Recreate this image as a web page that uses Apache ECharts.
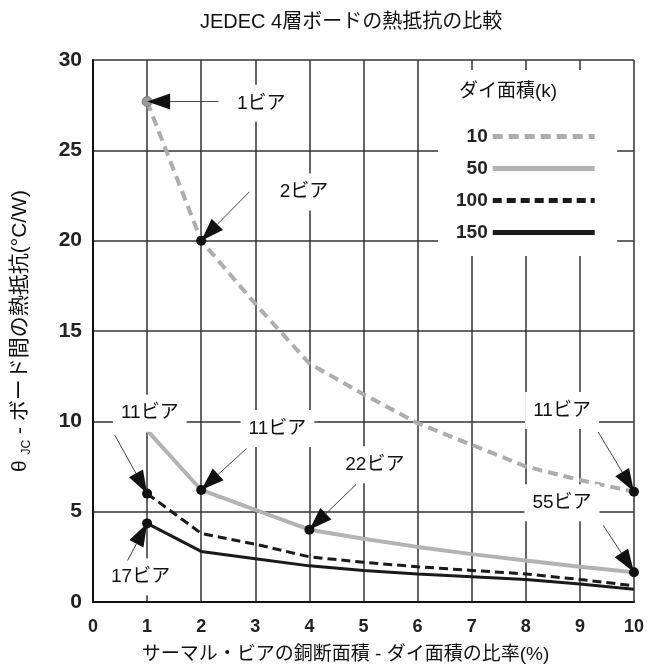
<!DOCTYPE html>
<html>
<head>
<meta charset="utf-8">
<script src="https://cdn.jsdelivr.net/npm/echarts@6/dist/echarts.min.js"></script>
<style>
html,body{margin:0;padding:0;background:#fff;}
#main{width:647px;height:670px;}
</style>
</head>
<body>
<div id="main"></div>
<script>
// 比率(%)
var xValues = [1, 2, 3, 4, 5, 6, 7, 8, 9, 10];
// ダイ面積ごとの熱抵抗
var die10 = [27.7, 20.0, 16.5, 13.2, 11.5, 9.9, 8.7, 7.5, 6.75, 6.1];
var die50 = [9.5, 6.2, 5.1, 4.0, 3.5, 3.05, 2.65, 2.3, 1.95, 1.65];
var die100 = [6.0, 3.8, 3.2, 2.5, 2.2, 1.95, 1.75, 1.55, 1.25, 0.9];
var die150 = [4.35, 2.8, 2.4, 2.0, 1.75, 1.55, 1.4, 1.25, 1.0, 0.7];
var seriesNames = ['10', '50', '100', '150'];

// 注記
var noteTexts = ['1ビア', '2ビア', '11ビア', '11ビア', '22ビア', '11ビア', '55ビア', '17ビア'];
var notePos = [[3.11, 27.6], [3.9, 22.7], [1.05, 10.45], [3.41, 9.6], [5.21, 7.6], [8.67, 10.6], [8.67, 5.5], [0.88, 1.4]];
var arrowFrom = [[2.32, 27.7], [2.89, 22.7], [0.4, 9.25], [2.84, 8.5], [4.86, 6.5], [9.34, 9.4], [9.43, 4.25], [0.64, 2.3]];
// 矢印の先: [系列番号, データ番号]
var arrowTo = [[0, 0], [0, 1], [2, 0], [1, 1], [1, 3], [0, 9], [1, 9], [3, 0]];

var allData = [die10, die50, die100, die150];
var font = '"Liberation Sans", "Noto Sans CJK JP", sans-serif';

function isMarked(s, i) {
    for (var k = 0; k < arrowTo.length; k++) {
        if (arrowTo[k][0] === s && arrowTo[k][1] === i) return true;
    }
    return false;
}

function buildData(s) {
    var res = [];
    for (var i = 0; i < xValues.length; i++) {
        var item = {value: [xValues[i], allData[s][i]]};
        if (isMarked(s, i)) {
            item.symbol = 'circle';
            item.symbolSize = 10;
            item.itemStyle = (s === 0 && i === 0)
                ? {color: '#9a9a9a', borderColor: '#777', borderWidth: 1}
                : {color: '#111'};
        }
        res.push(item);
    }
    return res;
}

var lineStyles = [
    {color: '#adadad', width: 4, type: [10, 6]},
    {color: '#b3b3b3', width: 4, type: 'solid'},
    {color: '#1a1a1a', width: 3, type: [9, 5]},
    {color: '#1a1a1a', width: 3, type: 'solid'}
];

var series = [];
for (var s = 0; s < seriesNames.length; s++) {
    series.push({
        name: seriesNames[s],
        type: 'line',
        symbol: 'none',
        color: lineStyles[s].color,
        lineStyle: lineStyles[s],
        z: 2,
        data: buildData(s)
    });
}

// 注記ラベル
var noteData = [];
var arrowData = [];
for (var n = 0; n < noteTexts.length; n++) {
    noteData.push({value: notePos[n], name: noteTexts[n]});
    var t = arrowTo[n];
    arrowData.push([arrowFrom[n][0], arrowFrom[n][1], xValues[t[1]], allData[t[0]][t[1]]]);
}
series.push({
    name: 'notes',
    type: 'scatter',
    symbolSize: 0,
    z: 5,
    itemStyle: {opacity: 1},
    data: noteData,
    label: {
        show: true,
        position: 'inside',
        formatter: '{b}',
        color: '#111',
        fontSize: 19,
        fontFamily: font,
        backgroundColor: '#fff',
        padding: [9, 8]
    }
});

// 矢印
series.push({
    name: 'arrows',
    type: 'custom',
    z: 6,
    silent: true,
    encode: {x: [0, 2], y: [1, 3]},
    data: arrowData,
    renderItem: function (params, api) {
        var p1 = api.coord([api.value(0), api.value(1)]);
        var p2 = api.coord([api.value(2), api.value(3)]);
        var dx = p2[0] - p1[0], dy = p2[1] - p1[1];
        var len = Math.sqrt(dx * dx + dy * dy);
        var ux = dx / len, uy = dy / len;
        var headLen = 23, halfW = 8;
        var bx = p2[0] - ux * headLen, by = p2[1] - uy * headLen;
        return {
            type: 'group',
            children: [{
                type: 'line',
                shape: {x1: p1[0], y1: p1[1], x2: bx, y2: by},
                style: {stroke: '#444', lineWidth: 1}
            }, {
                type: 'polygon',
                shape: {points: [[p2[0], p2[1]], [bx - uy * halfW, by + ux * halfW], [bx + uy * halfW, by - ux * halfW]]},
                style: {fill: '#111'}
            }]
        };
    }
});

var myChart = echarts.init(document.getElementById('main'));
var option = {
    animation: false,
    backgroundColor: '#fff',
    title: [{
        text: 'JEDEC 4層ボードの熱抵抗の比較',
        left: 200,
        top: 12,
        padding: 0,
        textStyle: {fontSize: 20, fontWeight: 'normal', color: '#111', fontFamily: font}
    }, {
        text: 'ダイ面積(k)',
        left: 459,
        top: 82,
        padding: 0,
        textStyle: {fontSize: 19, fontWeight: 'normal', color: '#111', fontFamily: font}
    }],
    legend: {
        data: seriesNames,
        orient: 'vertical',
        left: 438,
        top: 70,
        align: 'right',
        padding: [57, 20, 14, 18],
        backgroundColor: '#fff',
        itemWidth: 102,
        itemHeight: 14,
        itemGap: 13,
        itemStyle: {opacity: 0},
        lineStyle: {width: 5},
        textStyle: {fontSize: 19, fontWeight: 'bold', color: '#222', fontFamily: font}
    },
    grid: {left: 93, right: 11, top: 60, bottom: 68},
    xAxis: {
        type: 'value',
        min: 0,
        max: 10,
        interval: 1,
        name: 'サーマル・ビアの銅断面積 - ダイ面積の比率(%)',
        nameLocation: 'middle',
        nameGap: 43,
        nameTextStyle: {fontSize: 19, color: '#111', fontFamily: font, padding: [0, 36, 0, 0]},
        axisLine: {lineStyle: {color: '#111', width: 2}},
        axisTick: {show: false},
        axisLabel: {margin: 16, fontSize: 18, fontWeight: 'bold', color: '#222', fontFamily: font},
        splitLine: {show: true, lineStyle: {color: '#333', width: 1.5}}
    },
    yAxis: {
        type: 'value',
        min: 0,
        max: 30,
        interval: 5,
        name: '{t|θ} {s|JC}{t| - ボード間の熱抵抗(°C/W)}',
        nameLocation: 'middle',
        nameGap: 60,
        nameTextStyle: {
            fontSize: 21, color: '#111', fontFamily: font,
            rich: {
                t: {fontSize: 21, color: '#111', fontFamily: font, lineHeight: 25},
                s: {fontSize: 12, color: '#111', fontFamily: font, lineHeight: 25, verticalAlign: 'bottom'}
            }
        },
        axisLine: {show: true, lineStyle: {color: '#111', width: 2}},
        axisTick: {show: false},
        axisLabel: {margin: 11, fontSize: 21, fontWeight: 'bold', color: '#222', fontFamily: font},
        splitLine: {show: true, lineStyle: {color: '#333', width: 1.5}}
    },
    series: series
};
myChart.setOption(option);
</script>
</body>
</html>
